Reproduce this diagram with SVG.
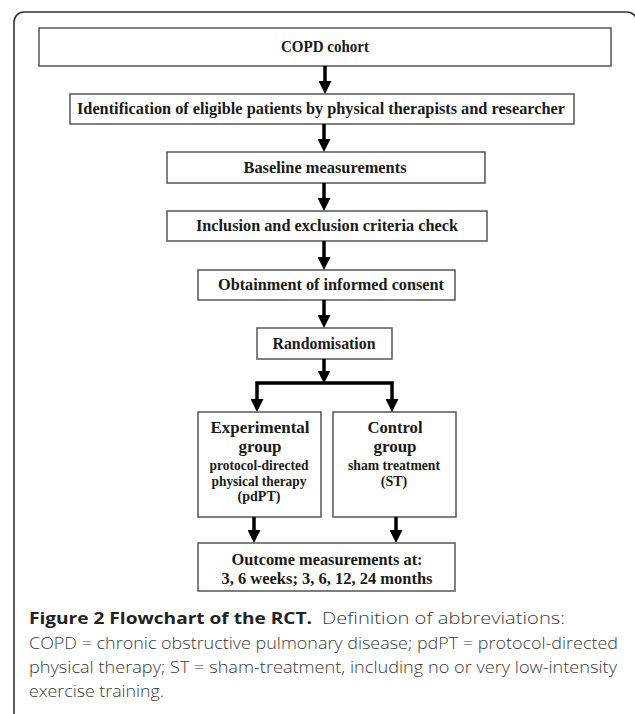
<svg xmlns="http://www.w3.org/2000/svg" width="635" height="714" viewBox="0 0 635 714">
<defs>
<marker id="ah" markerUnits="userSpaceOnUse" markerWidth="13" markerHeight="13" viewBox="0 0 13 13" refX="6.5" refY="6.5" orient="auto-start-reverse">
<path d="M0,0 L13,6.5 L0,13 z" fill="#000"/>
</marker>
<style>
.box{fill:#fff;stroke:#555;stroke-width:1.5}
.t{font-family:"Liberation Serif","DejaVu Serif",serif;font-weight:bold;fill:#1a1a1a;text-anchor:middle}
.t15{font-size:16.5px}
.t17{font-size:17px}
.t13{font-size:14px}
.arr{fill:none;stroke:#000;stroke-width:3.5;marker-end:url(#ah)}
.cap{font-family:"Open Sans","Liberation Sans",sans-serif;font-size:16.5px;font-weight:300;fill:#3a3a3a}
.capb{font-family:"Open Sans","Liberation Sans",sans-serif;font-size:16.5px;font-weight:bold;fill:#222}
</style>
</defs>
<rect x="14" y="12" width="623" height="712" rx="10" ry="10" fill="#fff" stroke="#333" stroke-width="1.6"/>

<g id="n-copd"><rect class="box" x="39" y="28" width="572" height="38"/><text class="t t15" x="325" y="52" textLength="88" lengthAdjust="spacingAndGlyphs">COPD cohort</text></g>
<g id="n-ident"><rect class="box" x="70" y="94" width="504" height="30"/><text class="t t15" x="321" y="114" textLength="488" lengthAdjust="spacingAndGlyphs">Identification of eligible patients by physical therapists  and researcher</text></g>
<g id="n-baseline"><rect class="box" x="167" y="152" width="318" height="31"/><text class="t t15" x="325" y="173" textLength="163" lengthAdjust="spacingAndGlyphs">Baseline measurements</text></g>
<g id="n-incl"><rect class="box" x="167" y="211" width="320" height="30"/><text class="t t15" x="327" y="231" textLength="262" lengthAdjust="spacingAndGlyphs">Inclusion and exclusion criteria check</text></g>
<g id="n-consent"><rect class="box" x="198" y="270" width="257" height="30"/><text class="t t15" x="331" y="290" textLength="226" lengthAdjust="spacingAndGlyphs">Obtainment of informed consent</text></g>
<g id="n-random"><rect class="box" x="257" y="328" width="135" height="31"/><text class="t t15" x="324" y="349" textLength="103" lengthAdjust="spacingAndGlyphs">Randomisation</text></g>
<g id="n-exp"><rect class="box" x="198" y="412" width="123" height="105"/>
<text class="t t17" x="260" y="433" textLength="99" lengthAdjust="spacingAndGlyphs">Experimental</text>
<text class="t t17" x="260" y="452">group</text>
<text class="t t13" x="259" y="470" textLength="99" lengthAdjust="spacingAndGlyphs">protocol-directed</text>
<text class="t t13" x="259" y="486" textLength="95" lengthAdjust="spacingAndGlyphs">physical therapy</text>
<text class="t t13" x="259" y="501">(pdPT)</text>
</g>
<g id="n-ctrl"><rect class="box" x="333" y="412" width="123" height="105"/>
<text class="t t17" x="395" y="433" textLength="55" lengthAdjust="spacingAndGlyphs">Control</text>
<text class="t t17" x="395" y="452">group</text>
<text class="t t13" x="394" y="470" textLength="92" lengthAdjust="spacingAndGlyphs">sham treatment</text>
<text class="t t13" x="394" y="486">(ST)</text>
</g>
<g id="n-outcome"><rect class="box" x="198" y="543" width="257" height="48"/>
<text class="t t15" x="327" y="565" textLength="191" lengthAdjust="spacingAndGlyphs">Outcome measurements  at:</text>
<text class="t t15" x="327" y="584" textLength="211" lengthAdjust="spacingAndGlyphs">3, 6 weeks;  3, 6, 12, 24 months</text>
</g>

<g id="connectors">
<path class="arr" d="M325,66 V87.5"/>
<path class="arr" d="M324,124 V145.5"/>
<path class="arr" d="M324,183 V204.5"/>
<path class="arr" d="M324,241 V263.5"/>
<path class="arr" d="M324,300 V321.5"/>
<path class="arr" d="M324,359 V377"/>
<path class="arr" d="M257,405.5 V383 H392 V405.5" style="marker-start:url(#ah)"/>
<path class="arr" d="M254,517 V536.5"/>
<path class="arr" d="M396,517 V536.5"/>
</g>

<g id="caption">
<text class="capb" x="29" y="624" textLength="283" lengthAdjust="spacingAndGlyphs">Figure 2 Flowchart of the RCT.</text>
<text class="cap" x="322" y="624" textLength="243" lengthAdjust="spacingAndGlyphs">Definition of abbreviations:</text>
<text class="cap" x="29" y="649" textLength="589" lengthAdjust="spacingAndGlyphs">COPD = chronic obstructive pulmonary disease; pdPT = protocol-directed</text>
<text class="cap" x="29" y="673" textLength="588" lengthAdjust="spacingAndGlyphs">physical therapy; ST = sham-treatment, including no or very low-intensity</text>
<text class="cap" x="29" y="697" textLength="135" lengthAdjust="spacingAndGlyphs">exercise training.</text>
</g>
</svg>
